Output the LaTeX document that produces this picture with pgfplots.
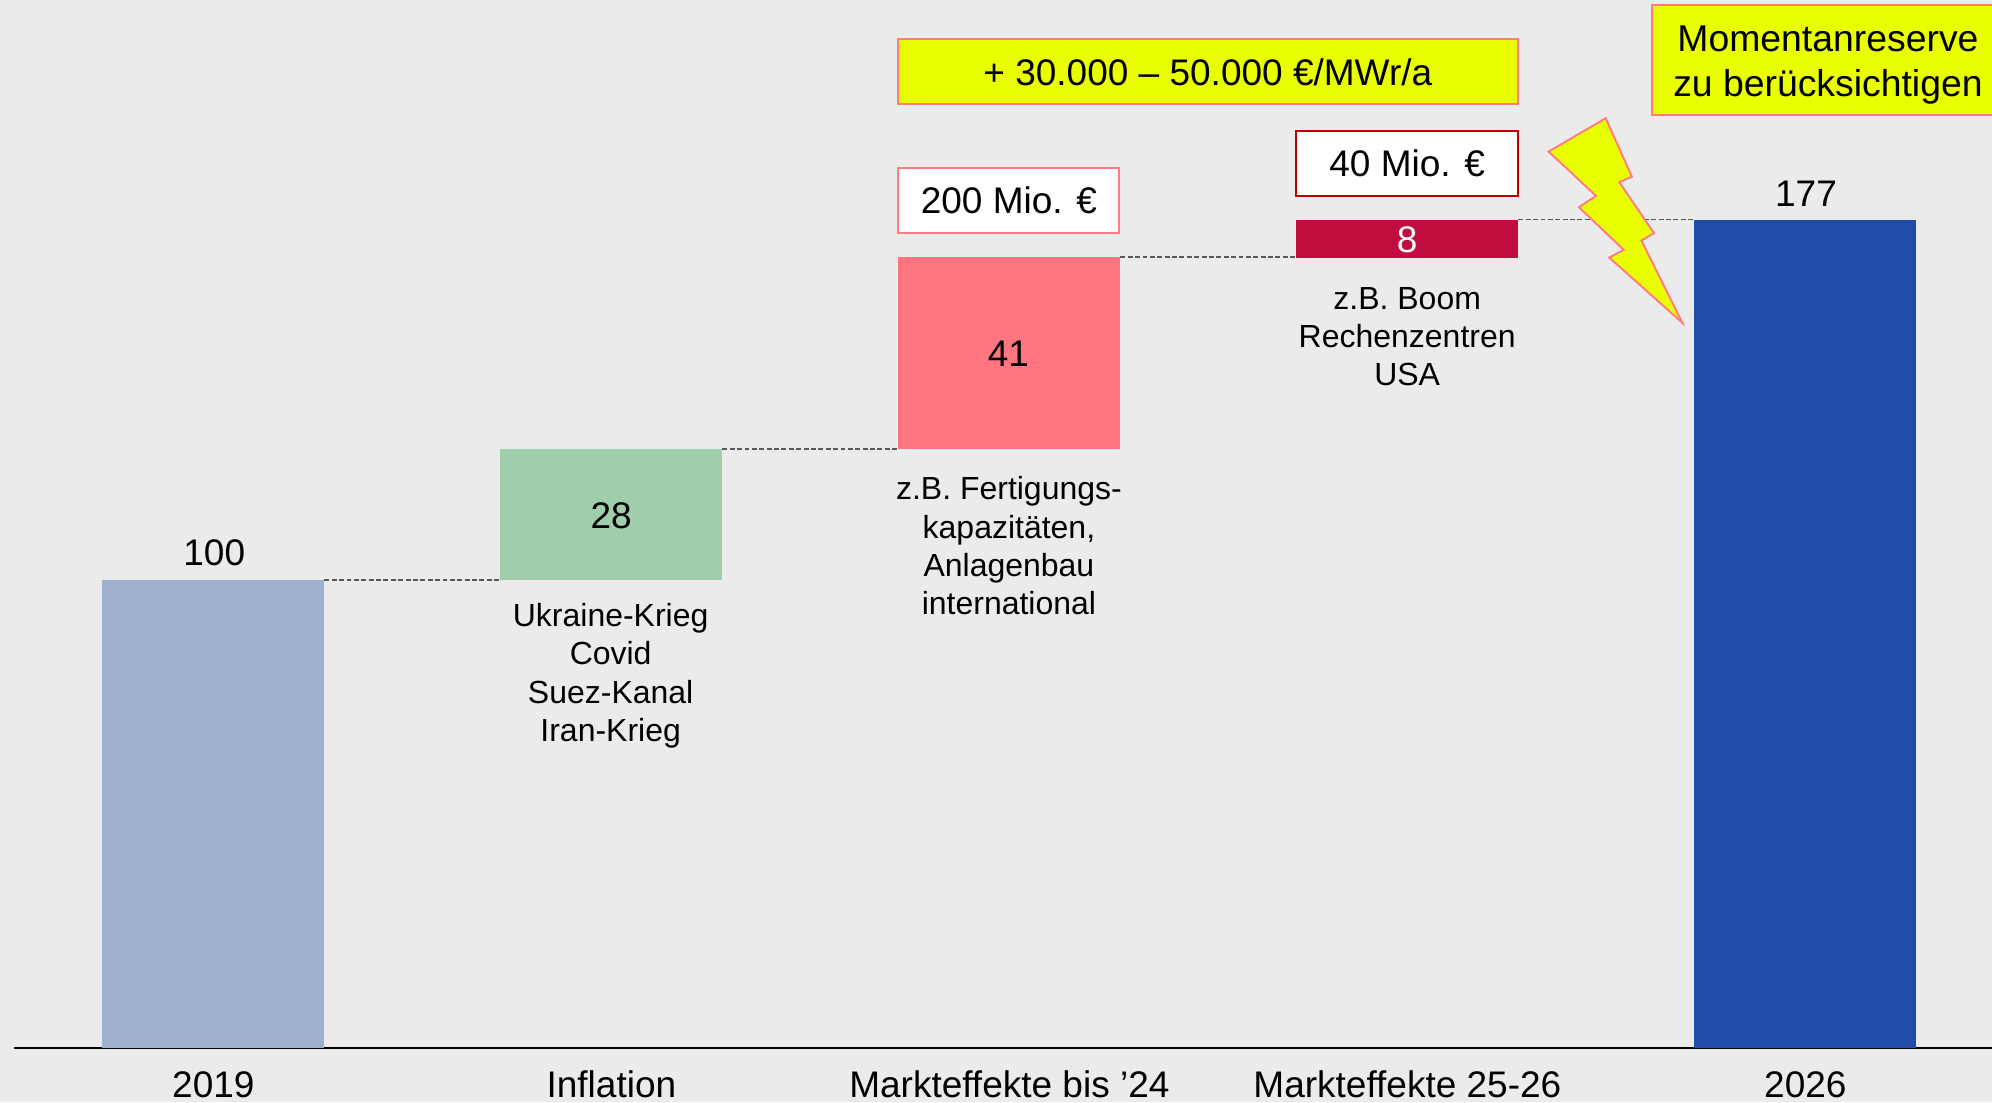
\documentclass[border=0pt]{standalone}
\usepackage{fontspec}
\setmainfont{Liberation Sans}
\usepackage{pgfplots}
\pgfplotsset{compat=1.18}
\definecolor{bg}{HTML}{EBEBEB}
\definecolor{cA}{HTML}{9DB0CF}
\definecolor{cB}{HTML}{A0CDAA}
\definecolor{cC}{HTML}{FF7680}
\definecolor{cD}{HTML}{C00D3E}
\definecolor{cE}{HTML}{204DA8}
\definecolor{yel}{HTML}{E9FF00}
\definecolor{pink}{HTML}{FF7C80}
\definecolor{dred}{HTML}{C00000}
\newcommand{\bigf}{\fontsize{10.53pt}{12.8pt}\selectfont}
\newcommand{\momf}{\fontsize{10.63pt}{12.8pt}\selectfont}
\newcommand{\notef}{\fontsize{9.1pt}{10.9pt}\selectfont}
\begin{document}
\begin{tikzpicture}
\useasboundingbox (0,0) rectangle (19.92,11.02);
\fill[bg] (0,0) rectangle (19.92,11.02);
\begin{axis}[
  at={(0.14cm,0.54cm)}, anchor=south west,
  scale only axis, width=19.78cm, height=10.48cm,
  xmin=-0.501, xmax=4.469, ymin=0, ymax=223.9,
  ybar stacked, bar width=2.22cm,
  axis x line=bottom, axis y line=none,
  x axis line style={-, line width=0.55pt, black},
  xtick={0,1,2,3,4},
  xticklabels={2019,Inflation,Markteffekte bis ’24,Markteffekte 25-26,2026},
  major tick length=0pt,
  xticklabel style={font=\bigf, inner sep=0pt, yshift=-0.22cm, text height=0.27cm, text depth=0.08cm},
  clip=false,
]
\addplot[draw=none, fill=none] coordinates {(0,0) (1,100) (2,128) (3,168.8) (4,0)};
\addplot[draw=none, fill=cA] coordinates {(0,100) (1,0) (2,0) (3,0) (4,0)};
\addplot[draw=none, fill=cB] coordinates {(0,0) (1,28) (2,0) (3,0) (4,0)};
\addplot[draw=none, fill=cC] coordinates {(0,0) (1,0) (2,41) (3,0) (4,0)};
\addplot[draw=none, fill=cD] coordinates {(0,0) (1,0) (2,0) (3,8.2) (4,0)};
\addplot[draw=none, fill=cE] coordinates {(0,0) (1,0) (2,0) (3,0) (4,177)};
\addplot[sharp plot, stack plots=false, no marks, gray!70!black, line width=0.4pt, dash pattern=on 1.4pt off 0.7pt] coordinates {(0.279,100) (0.721,100)};
\addplot[sharp plot, stack plots=false, no marks, gray!70!black, line width=0.4pt, dash pattern=on 1.4pt off 0.7pt] coordinates {(1.279,128) (1.721,128)};
\addplot[sharp plot, stack plots=false, no marks, gray!70!black, line width=0.4pt, dash pattern=on 1.4pt off 0.7pt] coordinates {(2.279,169) (2.721,169)};
\addplot[sharp plot, stack plots=false, no marks, gray!70!black, line width=0.4pt, dash pattern=on 1.4pt off 0.7pt] coordinates {(3.279,177) (3.721,177)};
\end{axis}
\begin{scope}[x=0.01cm, y=-0.01cm, yshift=11.02cm]
  \tikzset{lab/.style={font=\bigf, inner sep=0pt, anchor=base, align=center}}
  \node[lab] at (214.4,566) {100};
  \node[lab] at (1807,206.5) {177};
  \node[lab] at (611.5,528.5) {28};
  \node[lab] at (1009,366.5) {41};
  \node[lab, text=white] at (1408,252.5) {8};
  % annotation boxes
  \draw[pink, fill=yel, line width=0.55pt] (898.5,39) rectangle (1518.5,104);
  \node[lab] at (1208.5,86) {+ 30.000 – 50.000 €/MWr/a};
  \draw[pink, fill=white, line width=0.55pt] (898.5,168.5) rectangle (1120,233);
  \node[lab] at (1009.5,214) {200 Mio. €};
  \draw[dred, fill=white, line width=0.55pt] (1296.5,131) rectangle (1518.5,196);
  \node[lab] at (1408,177) {40 Mio. €};
  \draw[pink, fill=yel, line width=0.55pt] (1652.5,5) rectangle (1996,115);
  \node[lab, font=\momf] at (1829,97) {Momentanreserve\\zu berücksichtigen};
  \draw[pink, fill=yel, line width=0.55pt, line join=miter]
    (1606.6,118.3) -- (1632.8,176.7) -- (1620.2,182.3) -- (1655,233.3) -- (1642.4,240.7)
    -- (1683.3,323) -- (1610.1,257.7) -- (1624.7,250) -- (1579.8,207.3) -- (1597,196)
    -- (1549.5,151.7) -- cycle;
  \tikzset{nt/.style={font=\notef, inner sep=0pt, anchor=base, align=center}}
  \node[nt] at (611,742) {Ukraine-Krieg\\Covid\\Suez-Kanal\\Iran-Krieg};
  \node[nt] at (1009.5,615) {z.B. Fertigungs-\\kapazitäten,\\Anlagenbau\\international};
  \node[nt] at (1408,386) {z.B. Boom\\Rechenzentren\\USA};
\end{scope}
\end{tikzpicture}
\end{document}
